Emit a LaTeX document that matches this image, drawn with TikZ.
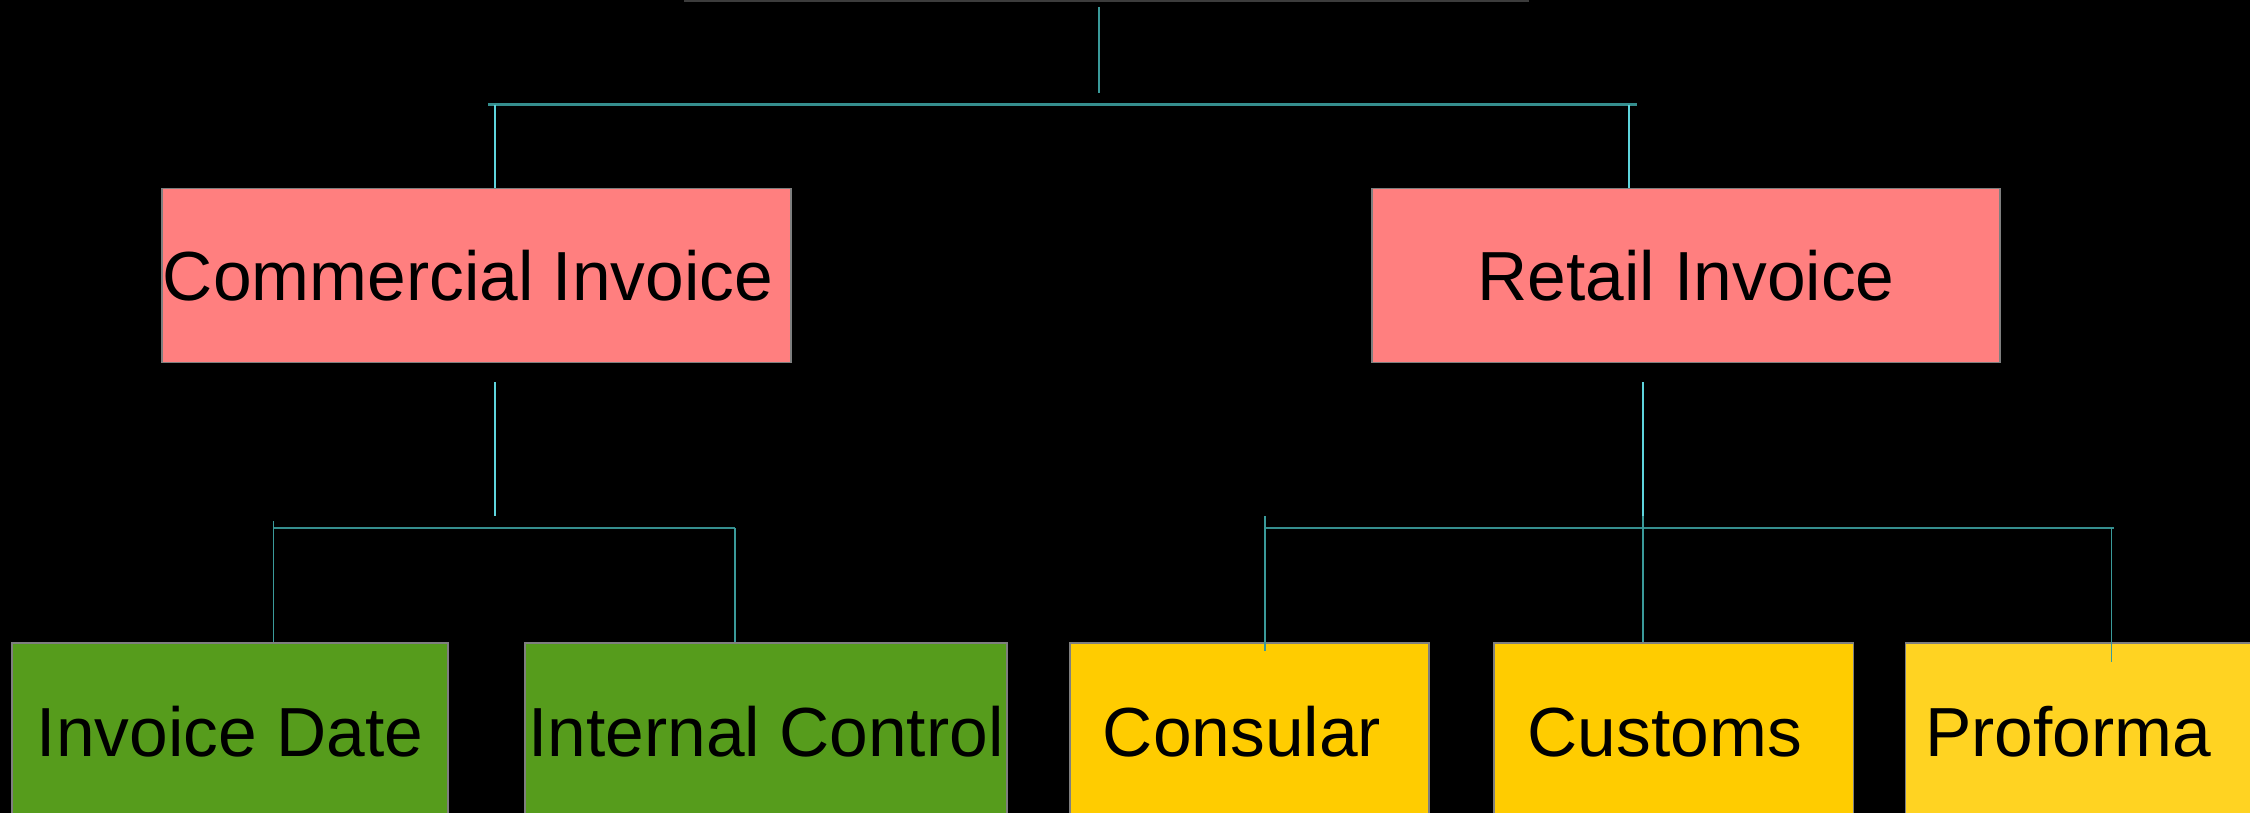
\documentclass[tikz,border=0pt]{standalone}
\usepackage{fontspec}
\setmainfont{Liberation Sans}
\definecolor{salmon}{HTML}{FF7F7F}
\definecolor{leafgreen}{HTML}{569C1C}
\definecolor{gold}{HTML}{FFCC00}
\definecolor{lightgold}{HTML}{FFD322}
\definecolor{boxgray}{HTML}{7F7F7F}
\definecolor{tealline}{HTML}{3A9A9A}
\definecolor{cyanline}{HTML}{5ED4DC}
\definecolor{topgray}{HTML}{3C3C3C}
\tikzset{
  box/.style={draw=boxgray, line width=1.5pt, inner sep=0pt, minimum height=174pt,
    font=\fontsize{69.5}{80}\selectfont, text height=50pt, text depth=0pt, text=black},
  lowbox/.style={box, minimum height=176pt},
  teal/.style={draw=tealline, line width=1.5pt},
  cyanl/.style={draw=cyanline, line width=1.3pt},
  bar/.style={draw=tealline!92!black, line width=2.4pt}
}
\begin{document}
\begin{tikzpicture}[x=1pt,y=-1pt]
\useasboundingbox (0,0) rectangle (2250,813);
\clip (0,0) rectangle (2250,813);
\fill[black] (0,0) rectangle (2250,813);

% remnant of the root node at the top
\coordinate (rootL) at (684,0.8);
\coordinate (rootR) at (1529,0.8);
\draw[topgray, line width=1.6pt] (rootL) -- (rootR);

% second level
\node[box, fill=salmon, minimum width=629pt] (comm) at (476.5,275.5) {Commercial Invoice\hspace*{17pt}};
\node[box, fill=salmon, minimum width=628pt] (retail) at (1686,275.5) {Retail Invoice};

% third level
\node[lowbox, fill=leafgreen, minimum width=436pt] (idate) at (230,731) {Invoice Date};
\node[lowbox, fill=leafgreen, minimum width=482pt] (ictrl) at (766,731) {Internal Control};
\node[lowbox, fill=gold, minimum width=359pt] (consular) at (1249.5,731) {Consular\hspace*{15pt}};
\node[lowbox, fill=gold, minimum width=359.5pt] (customs) at (1673.75,731) {Customs\hspace*{18pt}};
\node[lowbox, fill=lightgold, minimum width=380pt] (proforma) at (2095.5,731) {Proforma\hspace*{55pt}};

% connectors, top
\coordinate (rootA) at (1099,7);
\coordinate (rootB) at (1099,93);
\coordinate (barL) at (488,104.7);
\coordinate (barR) at (1637,104.7);
\coordinate (commTop) at (495,104.7);
\coordinate (retTop) at (1629,104.7);
\draw[teal] (rootA) -- (rootB);
\draw[bar] (barL) -- (barR);
\draw[cyanl] (commTop) -- (commTop |- comm.north);
\draw[cyanl] (retTop) -- (retTop |- retail.north);

% connectors, left group
\coordinate (commA) at (495,382);
\coordinate (commB) at (495,516);
\coordinate (lbarL) at (273,528);
\coordinate (lbarR) at (735,528);
\coordinate (idTop) at (273.6,521);
\draw[cyanl] (commA) -- (commB);
\draw[bar] (lbarL) -- (lbarR);
\draw[teal] (idTop) -- (idTop |- idate.north);
\draw[teal] (lbarR) -- (lbarR |- ictrl.north);

% connectors, right group
\coordinate (retA) at (1643,382);
\coordinate (retB) at (1643,516);
\coordinate (rbarL) at (1265,528);
\coordinate (rbarR) at (2114,528);
\coordinate (conTop) at (1265,516);
\coordinate (conEnd) at (1265,651);
\coordinate (proTop) at (2111.5,528);
\coordinate (proEnd) at (2111.5,662);
\draw[cyanl] (retA) -- (retB);
\draw[bar] (rbarL) -- (rbarR);
\draw[teal] (retB) -- (retB |- customs.north);
\draw[teal] (conTop) -- (conEnd);
\draw[teal] (proTop) -- (proEnd);
\end{tikzpicture}
\end{document}
